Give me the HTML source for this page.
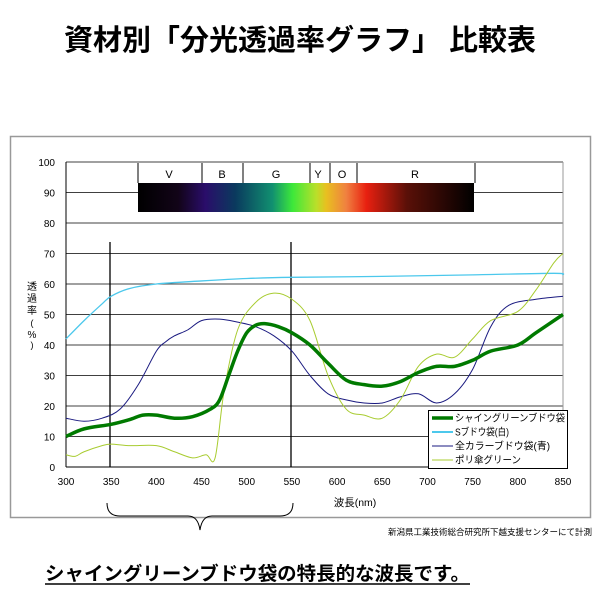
<!DOCTYPE html>
<html><head><meta charset="utf-8"><style>
body{margin:0;background:#fff;}
svg text{font-family:"Liberation Sans","Noto Sans CJK JP",sans-serif;}
</style></head><body>
<svg id="s" width="600" height="600" xmlns="http://www.w3.org/2000/svg">
<defs>
<linearGradient id="sp" x1="138" x2="474" gradientUnits="userSpaceOnUse">
<stop offset="0" stop-color="#000"/>
<stop offset="0.12" stop-color="#120418"/>
<stop offset="0.2" stop-color="#2a0d6a"/>
<stop offset="0.29" stop-color="#0a3a5e"/>
<stop offset="0.4" stop-color="#119070"/>
<stop offset="0.46" stop-color="#3de83a"/>
<stop offset="0.53" stop-color="#b8e02a"/>
<stop offset="0.56" stop-color="#e8c020"/>
<stop offset="0.62" stop-color="#f08040"/>
<stop offset="0.68" stop-color="#e82010"/>
<stop offset="0.8" stop-color="#5a1008"/>
<stop offset="1" stop-color="#000"/>
</linearGradient>
</defs>
<text x="300" y="50" text-anchor="middle" font-size="29" font-weight="bold">資材別「分光透過率グラフ」 比較表</text>
<rect x="10.5" y="136.5" width="580" height="381" fill="none" stroke="#999" stroke-width="1.5"/>
<g id="grid"></g>
<rect x="138" y="183" width="336" height="29" fill="url(#sp)"/>
<g stroke="#000" stroke-width="1">
<line x1="138" y1="163" x2="138" y2="183"/><line x1="202" y1="163" x2="202" y2="183"/>
<line x1="243" y1="163" x2="243" y2="183"/><line x1="310" y1="163" x2="310" y2="183"/>
<line x1="330" y1="163" x2="330" y2="183"/><line x1="357" y1="163" x2="357" y2="183"/>
<line x1="475" y1="163" x2="475" y2="183"/>
</g>
<g font-size="11" text-anchor="middle">
<text x="169" y="178">V</text><text x="222" y="178">B</text><text x="276" y="178">G</text>
<text x="318" y="178">Y</text><text x="342" y="178">O</text><text x="415" y="178">R</text>
</g>
<line x1="110" y1="242" x2="110" y2="467" stroke="#000" stroke-width="1.3"/>
<line x1="291" y1="242" x2="291" y2="467" stroke="#000" stroke-width="1.3"/>
<g id="curves" fill="none"></g>
<rect x="428.5" y="410.5" width="139" height="58" fill="#fff" stroke="#000"/>
<g font-size="10">
<line x1="432" y1="418" x2="453" y2="418" stroke="#007a00" stroke-width="3.5"/><text x="455" y="421.5" textLength="110" lengthAdjust="spacingAndGlyphs">シャイングリーンブドウ袋</text>
<line x1="432" y1="432" x2="453" y2="432" stroke="#4cc8ec" stroke-width="2"/><text x="455" y="435.5" textLength="54" lengthAdjust="spacingAndGlyphs">Sブドウ袋(白)</text>
<line x1="432" y1="446" x2="453" y2="446" stroke="#1a1a80" stroke-width="1"/><text x="455" y="449.5" textLength="95" lengthAdjust="spacingAndGlyphs">全カラーブドウ袋(青)</text>
<line x1="432" y1="460" x2="453" y2="460" stroke="#a8cc30" stroke-width="1"/><text x="455" y="463.5" textLength="66" lengthAdjust="spacingAndGlyphs">ポリ傘グリーン</text>
</g>
<g font-size="10" text-anchor="middle">
<text x="32" y="290">透</text><text x="32" y="302">過</text><text x="32" y="314">率</text><text x="32" y="326" font-size="9">(</text><text x="32" y="338">%</text><text x="32" y="348" font-size="9">)</text>
</g>
<text x="355" y="506" font-size="10.5" text-anchor="middle">波長(nm)</text>
<text x="592" y="535" font-size="8.5" text-anchor="end">新潟県工業技術総合研究所下越支援センターにて計測</text>
<path d="M107 503 Q107 516 120 516 L188 516 Q198 516 200 530 Q202 516 212 516 L280 516 Q293 516 293 503" fill="none" stroke="#000" stroke-width="1"/>
<text x="45" y="580" font-size="19" font-weight="bold" textLength="425" lengthAdjust="spacingAndGlyphs">シャイングリーンブドウ袋の特長的な波長です。</text>
<line x1="45" y1="584" x2="470" y2="584" stroke="#000" stroke-width="1.5"/>
</svg>
<script>
const NS="http://www.w3.org/2000/svg";
const X=n=>66+(n-300)*497/550, Y=v=>467-v*3.05;
const g=document.getElementById('grid');
let h='';
for(let v=0;v<=100;v+=10){const y=Y(v);h+=`<line x1="66" y1="${y}" x2="563" y2="${y}" stroke="#000" stroke-width="${v==0?1:0.8}"/>`;
h+=`<text x="55" y="${y+4}" font-size="10" text-anchor="end">${v}</text>`;}
h+=`<line x1="66" y1="162" x2="66" y2="467" stroke="#000"/><line x1="563" y1="162" x2="563" y2="467" stroke="#999"/>`;
for(let n=300;n<=850;n+=50){h+=`<text x="${X(n)}" y="485" font-size="10" text-anchor="middle">${n}</text>`;}
g.innerHTML=h;
function path(d){let p=d.map(a=>[X(a[0]),Y(a[1])]);let s=`M${p[0][0]},${p[0][1]}`;
for(let i=0;i<p.length-1;i++){const p0=p[i-1]||p[i],p1=p[i],p2=p[i+1],p3=p[i+2]||p2;
s+=` C${p1[0]+(p2[0]-p0[0])/6},${p1[1]+(p2[1]-p0[1])/6} ${p2[0]-(p3[0]-p1[0])/6},${p2[1]-(p3[1]-p1[1])/6} ${p2[0]},${p2[1]}`;}return s;}
const C=[
["#4cc8ec",1.3,[[300,42],[320,48],[340,53.5],[350,56],[370,58.5],[400,60],[450,61],[500,61.8],[550,62.2],[650,62.5],[750,63],[840,63.5],[850,63]]],
["#1a1a80",1,[[300,16],[320,15],[340,16],[360,19],[380,27],[400,38],[410,41],[420,43],[435,45],[450,48],[470,48.5],[490,47.5],[510,46],[530,43],[550,38],[570,30],[590,24],[610,22],[630,21],[650,21],[670,23],[690,24],[710,21],[730,24],[750,32],[770,46],[790,53],[820,55],[850,56]]],
["#a8cc30",1,[[300,4],[310,3.5],[320,5],[340,7],[350,7.5],[370,7],[400,7],[420,5],[440,3],[455,4],[465,3],[475,25],[490,45],[510,54],[530,57],[550,55],[570,48],[590,30],[610,19],[630,17],[650,16],[670,22],[690,33],[710,37],[730,36],[750,42],[770,48],[800,51],[820,58],[840,67],[850,70]]],
["#007a00",3.5,[[300,10],[320,12.5],[350,14],[370,15.5],[385,17],[400,17],[420,16],[440,16.5],[460,19],[470,22],[480,30],[490,38],[500,44],[510,46.5],[520,47],[535,46],[550,44],[570,40],[590,34],[610,28.5],[630,27],[650,26.5],[670,28],[690,31],[710,33],[730,33],[750,35],[770,38],[800,40],[820,44],[850,50]]]];
const cg=document.getElementById('curves');
C.forEach(c=>{const e=document.createElementNS(NS,'path');e.setAttribute('d',path(c[2]));e.setAttribute('stroke',c[0]);e.setAttribute('stroke-width',c[1]);cg.appendChild(e);});
</script>
</body></html>
